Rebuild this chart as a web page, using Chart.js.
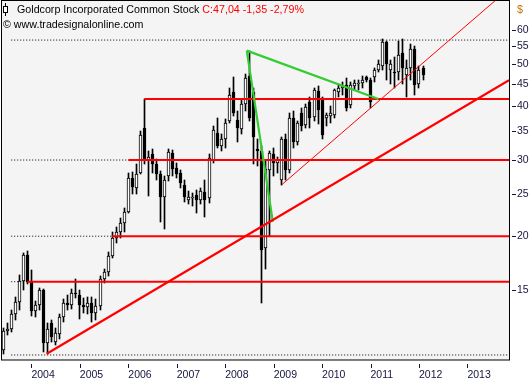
<!DOCTYPE html>
<html><head><meta charset="utf-8">
<script src="https://cdn.jsdelivr.net/npm/chart.js@4.4.1/dist/chart.umd.min.js"></script>
<style>html,body{margin:0;padding:0;background:#fff;overflow:hidden}#wrap{width:531px;height:380px;position:relative}</style>
</head><body><div id="wrap"><canvas id="c" width="531" height="380"></canvas></div>
<script>
// ---- data (monthly candles) ----
const firstMonth = [2003, 6]; // June 2003
const opens  = [10.9,12.1,12.2,13.2,14.1,15.8,18.1,15.8,13.4,13.9,15.0,11.3,12.6,11.4,11.9,13.0,14.0,13.9,14.8,14.6,13.9,13.7,14.0,13.3,13.8,15.9,16.5,18.0,19.8,20.5,21.5,22.8,27.3,25.8,28.0,35.5,30.0,31.0,29.4,27.8,24.6,27.5,31.2,28.7,28.0,26.3,24.3,24.6,24.9,24.2,25.3,24.5,30.0,34.6,32.3,33.5,37.0,43.0,37.2,35.3,40.5,47.0,43.0,31.8,31.5,18.8,28.5,31.0,29.5,27.0,33.5,28.5,37.5,33.0,38.5,36.1,40.9,37.8,43.3,41.7,37.5,38.0,38.1,43.0,44.0,44.7,40.2,44.5,45.2,45.2,46.6,45.9,46.6,48.4,49.4,56.1,48.4,48.0,47.9,53.0,47.2,49.0,54.1,45.0,49.0];
const highs  = [12.3,12.6,13.5,14.5,16.3,18.3,18.5,16.7,14.2,15.2,15.1,12.6,12.8,12.3,13.2,14.3,14.6,15.1,15.9,15.0,14.4,14.5,14.5,14.3,16.2,16.8,18.4,20.5,21.0,22.0,23.2,28.0,28.2,29.3,35.0,41.5,31.5,31.8,30.2,28.3,27.5,31.8,31.6,29.5,28.5,27.0,25.5,25.2,25.6,25.8,27.0,31.0,36.0,37.5,34.5,37.3,44.0,46.7,39.0,41.5,47.5,53.5,44.0,33.5,32.3,30.0,31.5,32.0,30.5,34.0,34.5,38.5,39.0,37.0,39.5,40.5,42.0,44.0,44.5,42.0,38.5,40.0,43.8,45.0,45.5,46.5,45.5,46.0,46.0,47.0,47.0,46.5,49.0,51.0,57.0,56.5,51.0,52.0,56.5,57.0,51.0,55.5,55.0,49.5,49.5];
const lows   = [10.7,11.8,12.0,12.8,13.5,15.0,15.5,13.1,13.0,13.5,10.8,10.7,11.4,11.2,11.6,12.7,13.5,13.6,14.4,12.9,13.3,13.2,12.7,12.8,13.5,15.6,16.2,17.8,19.3,19.8,20.5,22.6,25.0,25.0,27.8,29.3,24.8,28.0,27.0,21.6,20.8,26.8,27.5,27.3,25.8,24.0,23.8,23.5,22.6,23.8,22.2,23.9,29.5,32.0,31.5,32.0,36.5,38.0,33.0,34.5,39.0,37.0,29.3,29.0,14.0,16.8,20.0,27.5,28.0,26.3,27.0,28.0,32.0,32.5,35.0,35.5,35.5,37.0,36.3,33.5,36.0,36.5,37.5,42.0,42.5,39.0,39.5,43.5,43.5,44.0,45.5,39.5,45.5,47.8,48.5,46.0,45.0,44.0,46.0,45.0,42.0,46.0,42.5,44.0,46.0];
const closes = [12.1,12.2,13.2,14.1,15.8,18.1,15.7,13.4,13.9,15.0,11.3,12.2,11.7,11.95,13.0,14.0,13.9,14.8,14.7,13.9,13.7,14.0,13.3,13.8,15.9,16.5,18.0,19.8,20.5,21.5,22.8,27.3,26.0,27.8,34.2,30.2,30.5,29.4,27.9,24.6,27.0,31.3,28.6,27.8,26.6,24.6,24.7,24.6,24.3,25.4,24.2,30.3,35.2,32.4,33.6,36.6,42.5,38.5,35.6,40.4,46.5,37.5,34.0,31.5,18.6,28.6,31.2,29.5,30.0,33.5,28.5,37.5,33.0,36.5,36.0,39.7,37.5,43.5,39.1,34.2,38.1,38.5,43.5,44.0,44.5,39.6,44.7,45.2,45.2,45.9,45.9,40.9,48.4,50.0,56.1,50.0,50.0,47.9,52.6,49.0,49.0,54.1,44.7,48.5,47.2];
const yearTicks  = [2004,2005,2006,2007,2008,2009,2010,2011,2012,2013];
const priceTicks = [15,20,25,30,35,40,45,50,55,60];
// horizontal support / resistance levels (price, start month index since Jan 2003, dotted lead-in)
const levelPrices = [41.5, 30.0, 20.0, 15.7];
const levelStarts = [40, 36, 32, 11];
const levelLeadIn = [false, true, true, true];
// extreme (max/min) dotted levels
const extremePrices = [56.8, 10.63];
const dottedStart = 7;
// trend lines: [monthIndex, price]
const supportLine = [[15.8,10.7],[130.3,45.9]];
const channelLine = [[74.0,26.3],[127.06,70.3]];
const greenDrop   = [[65.35,53.7],[71.8,21.6]];
const greenTop    = [[65.35,53.7],[97.95,41.5]];
const titleText = 'Goldcorp Incorporated Common Stock';
const quoteText = 'C:47,04 -1,35 -2,79%';
const sourceText = '\u00A9 www.tradesignalonline.com';

const X_MIN = 4.47, X_MAX = 130.3, Y_MIN = 10.35, Y_MAX = 70.3;
const months = opens.map((_, i) => (firstMonth[0] - 2003) * 12 + firstMonth[1] - 1 + i);
const FONT = '"Liberation Sans", Arial, sans-serif';
const AXIS_COLOR = '#14143c';

const wickData = months.map((m, i) => ({x: m, y: [lows[i], highs[i]]}));
const bodyData = months.map((m, i) => ({x: m, y: [opens[i], closes[i]]}));
const lineDs = (pts, color, width, dash, order) => ({
  type: 'line', data: pts.map(p => ({x: p[0], y: p[1]})), borderColor: color, borderWidth: width,
  borderDash: dash || [], pointRadius: 0, fill: false, tension: 0, order: order || 0
});
const datasets = [
  {type: 'bar', data: wickData, backgroundColor: '#000', borderWidth: 0, barThickness: 1, grouped: false, order: 6},
  {type: 'bar', data: bodyData, backgroundColor: c => (closes[c.dataIndex] >= opens[c.dataIndex] ? '#fff' : '#000'),
   borderColor: '#000', borderWidth: 1, borderSkipped: false, barThickness: 3, grouped: false, order: 5}
];
extremePrices.forEach(p => datasets.push(lineDs([[dottedStart, p], [X_MAX, p]], '#000', 1, [1, 2], 7)));
levelPrices.forEach((p, i) => {
  if (levelLeadIn[i]) datasets.push(lineDs([[dottedStart, p], [levelStarts[i], p]], '#000', 1, [1, 2], 7));
  datasets.push(lineDs([[levelStarts[i], p], [X_MAX, p]], '#ff0000', 2, null, 2));
});
datasets.push(lineDs(supportLine, '#ff0000', 2.2, null, 1));
datasets.push(lineDs(channelLine, '#ff0000', 1, null, 1));
datasets.push(lineDs(greenDrop, '#33cc33', 2.2, null, 1));
datasets.push(lineDs(greenTop, '#33cc33', 2.2, null, 1));

// snap candle elements (positioned by the scales) to whole pixels for crisp rendering
const snapPlugin = {
  id: 'snap',
  afterDatasetsUpdate(chart) {
    [0, 1].forEach(di => {
      chart.getDatasetMeta(di).data.forEach(el => {
        el.x = Math.floor(el.x) + 0.5;
        el.y = Math.round(el.y); el.base = Math.round(el.base);
        if (Math.abs(el.base - el.y) < 1) el.base = el.y + 1;
      });
    });
  }
};
const bgPlugin = {
  id: 'bg',
  beforeDraw(chart) {
    const {ctx, chartArea: a} = chart;
    ctx.save();
    ctx.fillStyle = '#fff'; ctx.fillRect(0, 0, chart.width, chart.height);
    ctx.fillStyle = '#f4f4f4'; ctx.fillRect(a.left, a.top, a.right - a.left, a.bottom - a.top);
    ctx.restore();
  }
};
const decoPlugin = {
  id: 'deco',
  afterDraw(chart) {
    const {ctx, chartArea: a, scales} = chart;
    ctx.save();
    ctx.strokeStyle = '#000'; ctx.lineWidth = 1;
    ctx.strokeRect(a.left + 0.5, a.top + 0.5, a.right - a.left, a.bottom - a.top - 0.5);
    ctx.strokeStyle = AXIS_COLOR;
    ctx.beginPath();
    scales.x.ticks.forEach(t => { const px = Math.round(scales.x.getPixelForValue(t.value)) + 0.5; ctx.moveTo(px, a.bottom + 4); ctx.lineTo(px, a.bottom + 8); });
    scales.y.ticks.forEach(t => { const py = Math.round(scales.y.getPixelForValue(t.value)) + 0.5; ctx.moveTo(a.right + 3, py); ctx.lineTo(a.right + 7, py); });
    ctx.stroke();
    ctx.font = '10.7px ' + FONT; ctx.textBaseline = 'middle';
    ctx.fillStyle = '#000'; ctx.fillText(titleText, 17, 10);
    const w = ctx.measureText(titleText + ' ').width;
    ctx.fillStyle = '#ff0000'; ctx.fillText(quoteText, 17 + w, 10);
    ctx.fillStyle = '#000'; ctx.fillText(sourceText, 3, 25);
    ctx.fillStyle = '#c87000'; ctx.fillText('$', a.right + 8, 10);
    // legend icon (candle glyph)
    ctx.strokeStyle = '#000';
    ctx.beginPath(); ctx.moveTo(5.5, 3); ctx.lineTo(5.5, 16); ctx.stroke();
    ctx.fillStyle = '#fff'; ctx.fillRect(3.5, 6.5, 4, 6); ctx.strokeRect(3.5, 6.5, 4, 6);
    ctx.restore();
  }
};

new Chart(document.getElementById('c'), {
  type: 'bar',
  data: {datasets},
  options: {
    responsive: false, animation: false, events: [],
    layout: {padding: {left: 1, top: 0, right: 0, bottom: 0}},
    plugins: {legend: {display: false}, tooltip: {enabled: false}},
    scales: {
      x: {type: 'linear', min: X_MIN, max: X_MAX, offset: false,
        afterBuildTicks: s => { s.ticks = yearTicks.map(y => ({value: (y - 2003) * 12})); },
        afterFit: s => { s.height = 20; s.paddingLeft = 0; s.paddingRight = 0; },
        grid: {display: false, drawTicks: false, offset: false}, border: {display: false},
        ticks: {align: 'start', padding: 9, autoSkip: false, maxRotation: 0, color: AXIS_COLOR,
          font: {family: FONT, size: 10.5}, callback: v => String(2003 + v / 12)}},
      y: {type: 'logarithmic', position: 'right', min: Y_MIN, max: Y_MAX,
        afterBuildTicks: s => { s.ticks = priceTicks.map(v => ({value: v})); },
        afterFit: s => { s.width = 22; s.paddingTop = 0; s.paddingBottom = 0; },
        grid: {display: false, drawTicks: false}, border: {display: false},
        ticks: {padding: 8, autoSkip: false, color: AXIS_COLOR, font: {family: FONT, size: 10.5}, callback: v => String(v)}}
    }
  },
  plugins: [snapPlugin, bgPlugin, decoPlugin]
});
</script></body></html>
